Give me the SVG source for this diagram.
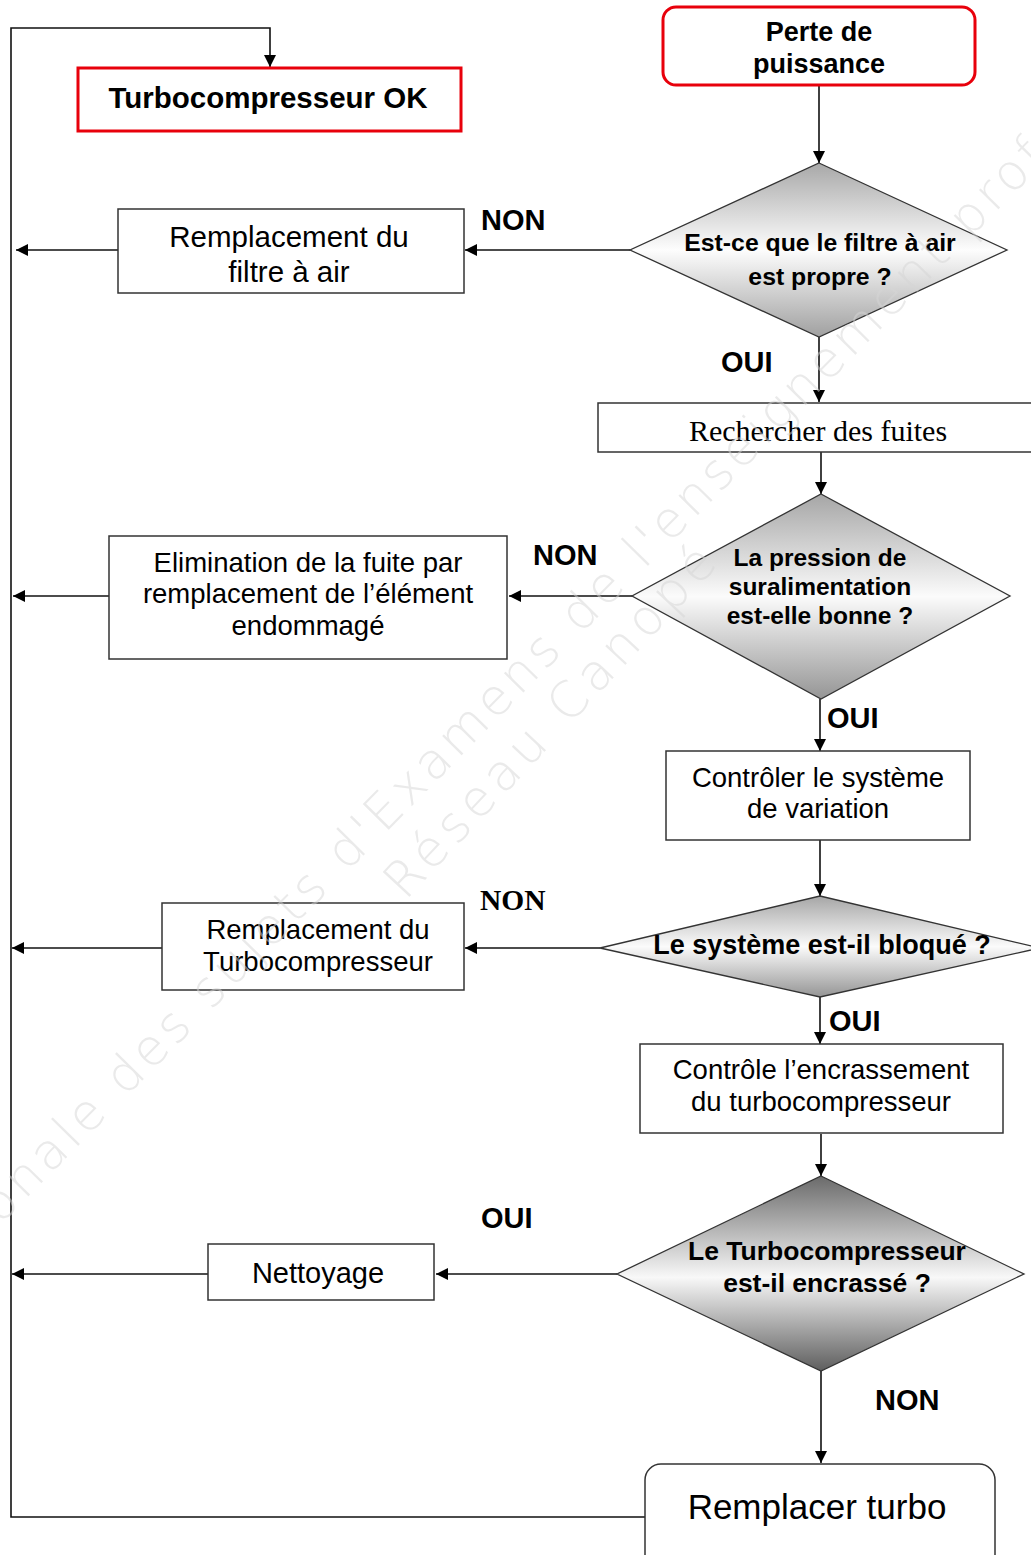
<svg xmlns="http://www.w3.org/2000/svg" width="1031" height="1555" viewBox="0 0 1031 1555">
<style>
.box{fill:#fff;stroke:#333;stroke-width:1.5}
.red{fill:#fff;stroke:#e8000b;stroke-width:3}
.dia{stroke:#333;stroke-width:1.3}
.t{font-family:"Liberation Sans",Arial,sans-serif;fill:#000;text-anchor:middle}
.b{font-family:"Liberation Sans",Arial,sans-serif;font-weight:bold;fill:#000;text-anchor:middle}
.lab{font-family:"Liberation Sans",Arial,sans-serif;font-weight:bold;font-size:29px;fill:#000}
.serif{font-family:"Liberation Serif","Times New Roman",serif;fill:#000}
.con{fill:none;stroke:#111;stroke-width:1.6}
.wm{font-family:"DejaVu Sans",sans-serif;font-weight:200;font-size:50px;fill:#d6d6d6;opacity:0.5}
</style>
<defs>
<marker id="ah" markerUnits="userSpaceOnUse" markerWidth="12" markerHeight="12" refX="12" refY="6" orient="auto">
<path d="M0,0 L12,6 L0,12 z" fill="#000"/>
</marker>
<linearGradient id="g1" x1="0" y1="0" x2="0" y2="1">
<stop offset="0" stop-color="#a8a8a8"/><stop offset="0.5" stop-color="#fdfdfd"/><stop offset="1" stop-color="#a0a0a0"/>
</linearGradient>
<linearGradient id="g2" x1="0" y1="0" x2="0" y2="1">
<stop offset="0" stop-color="#a6a6a6"/><stop offset="0.5" stop-color="#fbfbfb"/><stop offset="1" stop-color="#959595"/>
</linearGradient>
<linearGradient id="g4" x1="0" y1="0" x2="0" y2="1">
<stop offset="0" stop-color="#6a6a6a"/><stop offset="0.52" stop-color="#f8f8f8"/><stop offset="1" stop-color="#5e5e5e"/>
</linearGradient>
</defs>
<rect width="1031" height="1555" fill="#fff"/>

<g id="connectors">
<polyline class="con" points="645,1517 11,1517 11,28 270,28 270,67" stroke-width="2" marker-end="url(#ah)"/>
<line class="con" x1="819" y1="85" x2="819" y2="163" marker-end="url(#ah)"/>
<line class="con" x1="630" y1="250" x2="465" y2="250" marker-end="url(#ah)"/>
<line class="con" x1="118" y1="250" x2="16" y2="250" marker-end="url(#ah)"/>
<line class="con" x1="819" y1="337" x2="819" y2="402" marker-end="url(#ah)"/>
<line class="con" x1="821" y1="452" x2="821" y2="494" marker-end="url(#ah)"/>
<line class="con" x1="632" y1="596" x2="509" y2="596" marker-end="url(#ah)"/>
<line class="con" x1="109" y1="596" x2="13" y2="596" marker-end="url(#ah)"/>
<line class="con" x1="820" y1="699" x2="820" y2="751" marker-end="url(#ah)"/>
<line class="con" x1="820" y1="840" x2="820" y2="896" marker-end="url(#ah)"/>
<line class="con" x1="600" y1="948" x2="465" y2="948" marker-end="url(#ah)"/>
<line class="con" x1="162" y1="948" x2="12" y2="948" marker-end="url(#ah)"/>
<line class="con" x1="820" y1="997" x2="820" y2="1044" marker-end="url(#ah)"/>
<line class="con" x1="821" y1="1134" x2="821" y2="1176" marker-end="url(#ah)"/>
<line class="con" x1="617" y1="1274" x2="436" y2="1274" marker-end="url(#ah)"/>
<line class="con" x1="208" y1="1274" x2="12" y2="1274" marker-end="url(#ah)"/>
<line class="con" x1="821" y1="1371" x2="821" y2="1463" marker-end="url(#ah)"/>
</g>

<g id="labels">
<text class="lab" x="481" y="230">NON</text>
<text class="lab" x="721" y="372">OUI</text>
<text class="lab" x="533" y="565">NON</text>
<text class="lab" x="827" y="728">OUI</text>
<text class="serif" x="480" y="910" font-size="29.5" font-weight="bold">NON</text>
<text class="lab" x="829" y="1031">OUI</text>
<text class="lab" x="481" y="1228">OUI</text>
<text class="lab" x="875" y="1410">NON</text>
</g>

<g id="n-ok">
<rect class="red" x="78" y="68" width="383" height="63"/>
<text class="b" x="268" y="108" font-size="29.5">Turbocompresseur OK</text>
</g>
<g id="n-perte">
<rect class="red" x="663" y="7" width="312" height="78" rx="13"/>
<text class="b" x="819" y="41" font-size="27">Perte de</text>
<text class="b" x="819" y="73" font-size="27">puissance</text>
</g>
<g id="n-d1">
<polygon class="dia" points="819,163 1007,250 819,337 630,250" fill="url(#g1)"/>
<text class="b" x="820" y="251" font-size="24.8">Est-ce que le filtre à air</text>
<text class="b" x="820" y="285" font-size="24.8">est propre ?</text>
</g>
<g id="n-filtre">
<rect class="box" x="118" y="209" width="346" height="84"/>
<text class="t" x="289" y="247" font-size="29.5">Remplacement du</text>
<text class="t" x="289" y="282" font-size="29.5">filtre à air</text>
</g>
<g id="n-fuites">
<rect class="box" x="598" y="403" width="440" height="49"/>
<text class="serif" x="818" y="441" font-size="30" text-anchor="middle">Rechercher des fuites</text>
</g>
<g id="n-d2">
<polygon class="dia" points="821,494 1010,596 821,699 632,596" fill="url(#g2)"/>
<text class="b" x="820" y="566" font-size="24.5">La pression de</text>
<text class="b" x="820" y="595" font-size="24.5">suralimentation</text>
<text class="b" x="820" y="624" font-size="24.5">est-elle bonne ?</text>
</g>
<g id="n-elim">
<rect class="box" x="109" y="536" width="398" height="123"/>
<text class="t" x="308" y="572" font-size="27.5">Elimination de la fuite par</text>
<text class="t" x="308" y="603" font-size="27.5">remplacement de l’élément</text>
<text class="t" x="308" y="635" font-size="27.5">endommagé</text>
</g>
<g id="n-ctrl">
<rect class="box" x="666" y="751" width="304" height="89"/>
<text class="t" x="818" y="787" font-size="27.5">Contrôler le système</text>
<text class="t" x="818" y="818" font-size="27.5">de variation</text>
</g>
<g id="n-d3">
<polygon class="dia" points="820,896 1040,948 820,997 600,948" fill="url(#g2)"/>
<text class="b" x="822" y="954" font-size="27">Le système est-il bloqué ?</text>
</g>
<g id="n-rturbo">
<rect class="box" x="162" y="903" width="302" height="87"/>
<text class="t" x="318" y="939" font-size="27.5">Remplacement du</text>
<text class="t" x="318" y="971" font-size="27.5">Turbocompresseur</text>
</g>
<g id="n-encr">
<rect class="box" x="640" y="1044" width="363" height="89"/>
<text class="t" x="821" y="1079" font-size="27.5">Contrôle l’encrassement</text>
<text class="t" x="821" y="1111" font-size="27.5">du turbocompresseur</text>
</g>
<g id="n-d4">
<polygon class="dia" points="821,1176 1024,1274 821,1371 617,1274" fill="url(#g4)"/>
<text class="b" x="827" y="1260" font-size="26.5">Le Turbocompresseur</text>
<text class="b" x="827" y="1292" font-size="26.5">est-il encrassé ?</text>
</g>
<g id="n-nett">
<rect class="box" x="208" y="1244" width="226" height="56"/>
<text class="t" x="318" y="1283" font-size="29">Nettoyage</text>
</g>
<g id="n-remp">
<rect class="box" x="645" y="1464" width="350" height="110" rx="16"/>
<text class="t" x="817" y="1519" font-size="35">Remplacer turbo</text>
</g>

<g id="watermark">
<text class="wm" x="524" y="692" text-anchor="middle" textLength="1495" lengthAdjust="spacing" transform="rotate(-45.5 524 692)">onale des sujets d'Examens de l'enseignement prof</text>
<text class="wm" x="562" y="733" text-anchor="middle" textLength="460" lengthAdjust="spacing" transform="rotate(-47 562 733)">Réseau Canopé</text>
</g>
</svg>
